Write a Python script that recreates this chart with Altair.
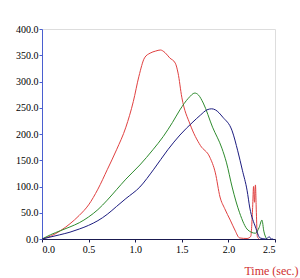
import altair as alt
import pandas as pd

red_t = [0, 0.1, 0.2, 0.3, 0.4, 0.5, 0.6, 0.7, 0.8, 0.9, 0.98, 1.04, 1.1, 1.16, 1.22, 1.27, 1.32, 1.37, 1.43, 1.46, 1.50, 1.59, 1.70, 1.80, 1.86, 1.91, 1.96, 2.02, 2.07, 2.12, 2.2, 2.24, 2.26, 2.27, 2.28, 2.29, 2.30, 2.31, 2.33]
red_v = [0, 6, 16, 29, 45, 65, 95, 132, 170, 213, 262, 310, 345, 354, 358, 360, 355, 345, 335, 316, 270, 218, 178, 156, 126, 80, 58, 36, 17, 2, 1, 5, 60, 100, 70, 103, 50, 5, 0]

green_t = [0, 0.09, 0.2, 0.3, 0.4, 0.5, 0.6, 0.7, 0.8, 0.9, 1.05, 1.19, 1.3, 1.4, 1.48, 1.57, 1.64, 1.68, 1.73, 1.83, 1.93, 1.98, 2.04, 2.12, 2.21, 2.29, 2.33, 2.36, 2.38, 2.41]
green_v = [0, 8, 16, 23, 31, 42, 56, 74, 94, 114, 141, 170, 195, 222, 246, 268, 278, 274, 259, 213, 173, 145, 99, 50, 17, 11, 22, 36, 15, 0]

blue_t = [0, 0.19, 0.3, 0.4, 0.5, 0.6, 0.7, 0.8, 0.9, 1.05, 1.2, 1.35, 1.48, 1.62, 1.70, 1.77, 1.82, 1.86, 1.94, 2.04, 2.10, 2.15, 2.20, 2.23, 2.29, 2.34, 2.40, 2.44, 2.46, 2.48]
blue_v = [0, 8, 13, 19, 26, 35, 47, 62, 77, 99, 133, 170, 198, 223, 236, 246, 248, 246, 232, 206, 168, 131, 93, 59, 23, 2, 0, 4, 0, 0]

series = [("red", red_t, red_v), ("green", green_t, green_v), ("blue", blue_t, blue_v)]
rows = []
for name, ts, vs in series:
    for i, (t, v) in enumerate(zip(ts, vs)):
        rows.append({"s": name, "t": t, "v": v, "o": i})
df = pd.DataFrame(rows)

font = "Liberation Serif"
chart = alt.Chart(df).mark_line(strokeWidth=1, interpolate="monotone").encode(
    x=alt.X("t:Q", scale=alt.Scale(domain=[0, 2.5], nice=False),
            axis=alt.Axis(values=[0, 0.5, 1.0, 1.5, 2.0, 2.5], format=".1f", grid=False,
                          domainColor="#1a1a50", tickColor="#1a1a50", tickSize=3,
                          labelFont=font, labelFontSize=10, labelColor="black", labelPadding=2,
                          title="Time (sec.)", titleColor="#d03030", titleFont=font,
                          titleFontSize=12, titleFontWeight="normal", titleAlign="center",
                          titleX=229, titleY=31, titleBaseline="middle")),
    y=alt.Y("v:Q", scale=alt.Scale(domain=[0, 400], nice=False),
            axis=alt.Axis(values=list(range(0, 401, 50)), format=".1f", grid=False,
                          domainColor="#4a5fd0", tickColor="#4a5fd0", tickSize=3,
                          labelFont=font, labelFontSize=10, labelColor="black", labelPadding=1,
                          title=None)),
    color=alt.Color("s:N", scale=alt.Scale(domain=["red", "green", "blue"],
                                           range=["#e04040", "#2e8b2e", "#1c1c80"]), legend=None),
    order="o:Q",
).properties(
    width=233, height=210,
    autosize=alt.AutoSizeParams(type="none"),
    padding={"left": 42, "top": 29, "right": 25, "bottom": 39},
).configure_view(stroke=None).configure(background="white")

chart.save("out.html", embed_options={"renderer": "svg", "actions": False})
